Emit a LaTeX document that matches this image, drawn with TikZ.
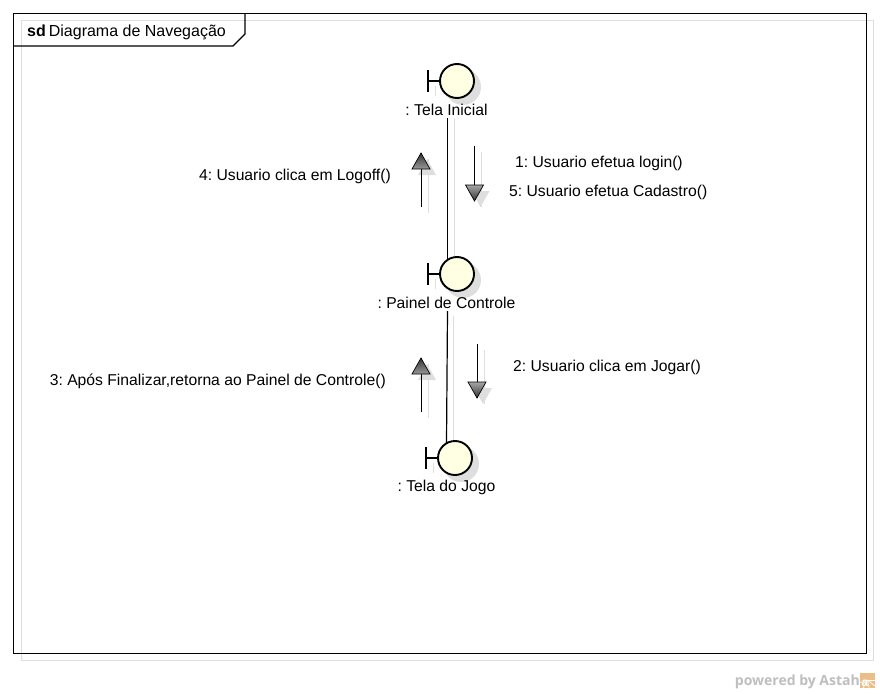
\documentclass[tikz,border=0pt]{standalone}
\usepackage{fontspec}
\setmainfont{Liberation Sans}
\newfontfamily\astahfont{Open Sans}
\usetikzlibrary{positioning}
\definecolor{shadowgray}{RGB}{222,222,222}
\definecolor{paleyellow}{RGB}{255,255,228}
\definecolor{astahgray}{RGB}{190,190,190}
\definecolor{astahorange}{RGB}{236,190,135}
\tikzset{
  lbl/.style={font=\fontsize{15.7}{17}\selectfont\frenchspacing, inner sep=0pt, text=black},
  boundary/.style={circle, draw=black, line width=1.9pt, fill=paleyellow, minimum size=34pt, inner sep=0pt},
  boundaryshadow/.style={circle, fill=shadowgray, minimum size=36pt, inner sep=0pt},
  lifeline/.style={line width=1.2pt},
  lifelineshadow/.style={line width=1pt, shadowgray},
  shaft/.style={line width=1pt},
  shaftshadow/.style={line width=1pt, shadowgray},
  headfill/.style={draw=black, line width=.7pt, top color=black!80, bottom color=black!40},
  headfilldown/.style={draw=black, line width=.7pt, top color=black!35, bottom color=black!80}
}
% message arrow going up: tip, foot
\newcommand{\upmsg}[2]{
  \draw[shaftshadow] ([shift={(7,6)}]#1) -- ([shift={(7,6)}]#2);
  \fill[shadowgray] ([shift={(6,6)}]#1) -- ++(9,16) -- ++(-18,0) -- cycle;
  \draw[shaft] (#1) -- (#2);
  \draw[headfill] (#1) -- ++(9,16) -- ++(-18,0) -- cycle;
}
% message arrow going down: foot, tip
\newcommand{\downmsg}[2]{
  \draw[shaftshadow] ([shift={(7,6)}]#1) -- ([shift={(7,6)}]#2);
  \fill[shadowgray] ([shift={(6,6)}]#2) -- ++(9,-16) -- ++(-18,0) -- cycle;
  \draw[shaft] (#1) -- (#2);
  \draw[headfilldown] (#2) -- ++(9,-16) -- ++(-18,0) -- cycle;
}
% boundary icon with its shadow and label
\newcommand{\boundaryicon}[4]{
  \draw[shaftshadow] (#2-22,#3+5) -- (#2-22,#3+15);
  \node[boundaryshadow] (#1s) at (#2+6,#3+6) {};
  \node[boundary] (#1) at (#2,#3) {};
  \draw[line width=1.9pt] (#1.west) -- ++(-11,0);
  \draw[line width=1.9pt] ([xshift=-11pt]#1.west) ++(0,-11) -- ++(0,22);
  \node[lbl, anchor=center] (#1lbl) at (446.5,#3+29) {#4};
}
\begin{document}
\begin{tikzpicture}[x=1pt,y=-1pt]
  \useasboundingbox (0,0) rectangle (880,693);
  %%frame
  \draw[shadowgray, line width=1pt] (21,21) rectangle (873,660);
  \coordinate (tabA) at (13.5,46);
  \coordinate (tabB) at (233,46);
  \coordinate (tabC) at (245,34);
  \coordinate (tabD) at (245,13.5);
  \draw[line width=1.1pt] (13.5,13.5) rectangle (866.5,653.5);
  \draw[line width=1.1pt] (tabA) -- (tabB) -- (tabC) -- (tabD);
  \node[lbl, anchor=west, font=\fontsize{16}{17}\selectfont] (title) at (27,32) {\textbf{sd}\hspace{3pt}Diagrama de Navegação};

  %%lifeline shadows
  \coordinate (sh1) at (454,118);
  \coordinate (sh2) at (454,262);
  \coordinate (sh3) at (453,316);
  \coordinate (sh4) at (453,447);
  \draw[lifelineshadow] (sh1) -- (sh2);
  \draw[lifelineshadow] (sh3) -- (sh4);

  %%objects
  \boundaryicon{inicial}{457}{81}{: Tela Inicial}
  \boundaryicon{painel}{457}{274}{: Painel de Controle}
  \boundaryicon{jogo}{455}{458}{: Tela do Jogo}

  %%links
  \coordinate (startA) at (447.5,118);
  \coordinate (endA) at (447.5,259);
  \coordinate (startB) at (447.5,311);
  \coordinate (endB) at (446.5,443);
  \draw[lifeline] (startA) -- (endA);
  \draw[lifeline] (startB) -- (endB);

  %%messages top
  \coordinate (up1tip) at (421,153);
  \coordinate (up1foot) at (421,207);
  \coordinate (dn1foot) at (474.5,146);
  \coordinate (dn1tip) at (474.5,201);
  \upmsg{up1tip}{up1foot}
  \downmsg{dn1foot}{dn1tip}
  \node[lbl, anchor=east] (msgfour) at (391,176.5) {4: Usuario clica em Logoff()};
  \node[lbl, anchor=west] (msgone) at (515,163.5) {1: Usuario efetua login()};
  \node[lbl, anchor=west] (msgfive) at (509,192.5) {5: Usuario efetua Cadastro()};

  %%messages bottom
  \coordinate (up2tip) at (421,358);
  \coordinate (up2foot) at (421,412);
  \coordinate (dn2foot) at (477,344);
  \coordinate (dn2tip) at (477,398);
  \upmsg{up2tip}{up2foot}
  \downmsg{dn2foot}{dn2tip}
  \node[lbl, anchor=east] (msgthree) at (386,381.5) {3: Após Finalizar,retorna ao Painel de Controle()};
  \node[lbl, anchor=west] (msgtwo) at (513,367.5) {2: Usuario clica em Jogar()};

  %%watermark
  \node[anchor=east, inner sep=0pt, text=astahgray, font=\fontsize{14}{16}\selectfont\astahfont\bfseries] (powered) at (860,682) {powered by Astah};
  \node[fill=astahorange, minimum size=15pt, inner sep=0pt, anchor=west] (logo) at (860,680) {};
  \foreach \ang in {0,40,...,160}
    \draw[white, line width=.7pt] (logo.center) -- ++(\ang:9);
  \node[inner sep=0pt, text=white, font=\fontsize{12}{12}\selectfont\bfseries] (logoa) at (865,683) {a};
\end{tikzpicture}
\end{document}
